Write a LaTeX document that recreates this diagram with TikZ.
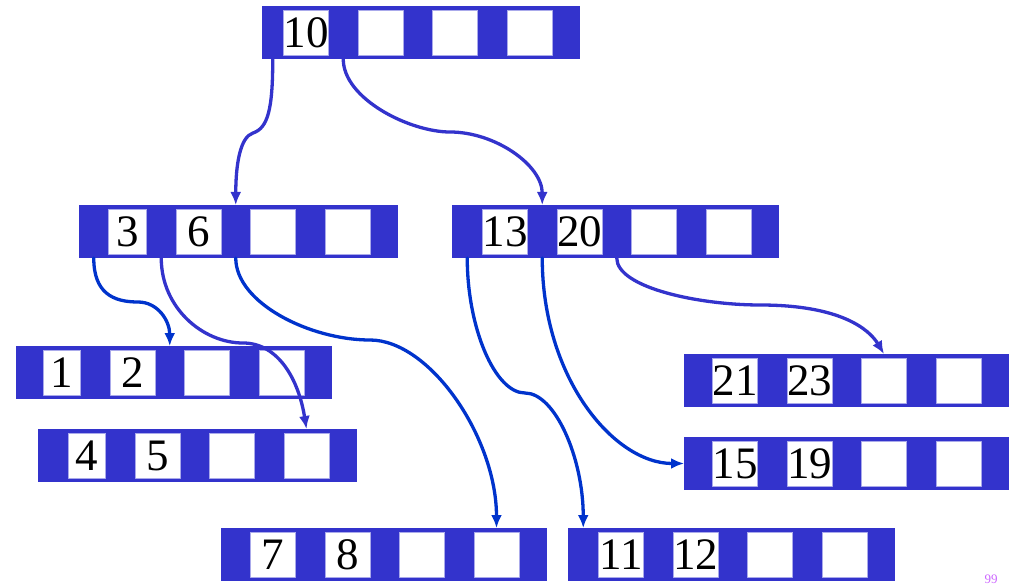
\documentclass[tikz,border=0pt]{standalone}
\usepackage{fontspec}
\setmainfont{Liberation Serif}
\usetikzlibrary{arrows.meta}
\definecolor{barra}{RGB}{51,51,204}
\definecolor{flecha}{RGB}{0,51,204}
\definecolor{borde}{RGB}{170,170,235}
\definecolor{pagina}{RGB}{204,102,255}

\tikzset{
  bloque/.style={fill=barra, inner sep=0pt, outer sep=0pt, minimum height=53pt, anchor=north west},
  caja/.style={fill=white, draw=borde, line width=0.8pt, inner sep=0pt, outer sep=0pt,
    minimum height=45pt, minimum width=45pt, anchor=north east, font=\fontsize{45}{45}\selectfont},
  rama/.style={line width=3.3pt, -{Latex[length=13pt,width=11pt]}},
}

% nodo del arbol B: nombre, x izq., x der., y sup., clave 1, clave 2, ancho de la 1a caja
\newcommand{\nodob}[7]{
  \node[bloque, minimum width={#3-#2}] (#1) at (#2,#4) {};
  \node[caja, minimum width=#7] (#1-1) at ({#3-28-3*74.5},#4+4) {#5};
  \node[caja] (#1-2) at ({#3-28-2*74.5},#4+4) {#6};
  \node[caja] (#1-3) at ({#3-28-74.5},#4+4) {};
  \node[caja] (#1-4) at ({#3-28},#4+4) {};
  \path (#1.south west) -- (#1-1.west |- #1.south) coordinate[midway] (#1-p0);
  \path (#1-1.east |- #1.south) -- (#1-2.west |- #1.south) coordinate[midway] (#1-p1);
  \path (#1-2.east |- #1.south) -- (#1-3.west |- #1.south) coordinate[midway] (#1-p2);
}

\begin{document}
\begin{tikzpicture}[x=1pt, y=-1pt, line cap=round, line join=round]
  \useasboundingbox (0,0) rectangle (1017,585);
  % los nodos, de arriba abajo
  \nodob{n10}{262}{580}{6}{10}{}{45}
  \nodob{n36}{79}{398}{205}{3}{6}{38}
  \nodob{n1320}{452}{779}{205}{13}{20}{45}
  \nodob{n12}{16}{332}{346}{1}{2}{37}
  \nodob{n45}{38}{357}{429}{4}{5}{37}
  \nodob{n2123}{684}{1009}{354}{21}{23}{45}
  \nodob{n1519}{684}{1009}{437}{15}{19}{45}
  \nodob{n78}{221}{547}{528}{7}{8}{45}
  \nodob{n1112}{568}{895}{528}{11}{12}{45}
  % ramas de la raiz
  \draw[rama, barra] (n10-p0) .. controls +(0,50) and +(15,-5) .. (253,133)
    .. controls +(-13,4) and +(0,-40) .. (n36-p2 |- n36.north);
  \draw[rama, barra] (n10-p1) .. controls +(0,40) and +(-40,0) .. (450,132)
    .. controls +(45,0) and +(0,-40) .. (n1320-p1 |- n1320.north);
  % ramas del nodo 3 6
  \draw[rama, flecha] (n36-p0) .. controls +(0,35) and +(-25,0) .. (138,302)
    .. controls +(20,0) and +(0,-25) .. (n12-p2 |- n12.north);
  \draw[rama, barra] (n36-p1) .. controls +(0,50) and +(-40,0) .. (243,343)
    .. controls +(35,0) and +(-8,-50) .. (n45-4 |- n45.north);
  \draw[rama, flecha] (n36-p2) .. controls +(0,45) and +(-60,0) .. (370,340)
    .. controls +(60,0) and +(0,-90) .. (n78-4 |- n78.north);
  % ramas del nodo 13 20
  \draw[rama, flecha] (n1320-p0) .. controls +(0,70) and +(-30,0) .. (525,393)
    .. controls +(30,0) and +(0,-70) .. (n1112-p0 |- n1112.north);
  \draw[rama, flecha] (n1320-p1) .. controls +(0,120) and +(-70,0) .. (n1519.west);
  \draw[rama, barra] (n1320-p2) .. controls +(0,30) and +(-60,0) .. (760,305)
    .. controls +(80,0) and +(-15,-25) .. (n2123-3 |- n2123.north);
  % numero de pagina
  \node[text=pagina, font=\fontsize{13}{13}\selectfont] (pag) at (991,579) {99};
\end{tikzpicture}
\end{document}
